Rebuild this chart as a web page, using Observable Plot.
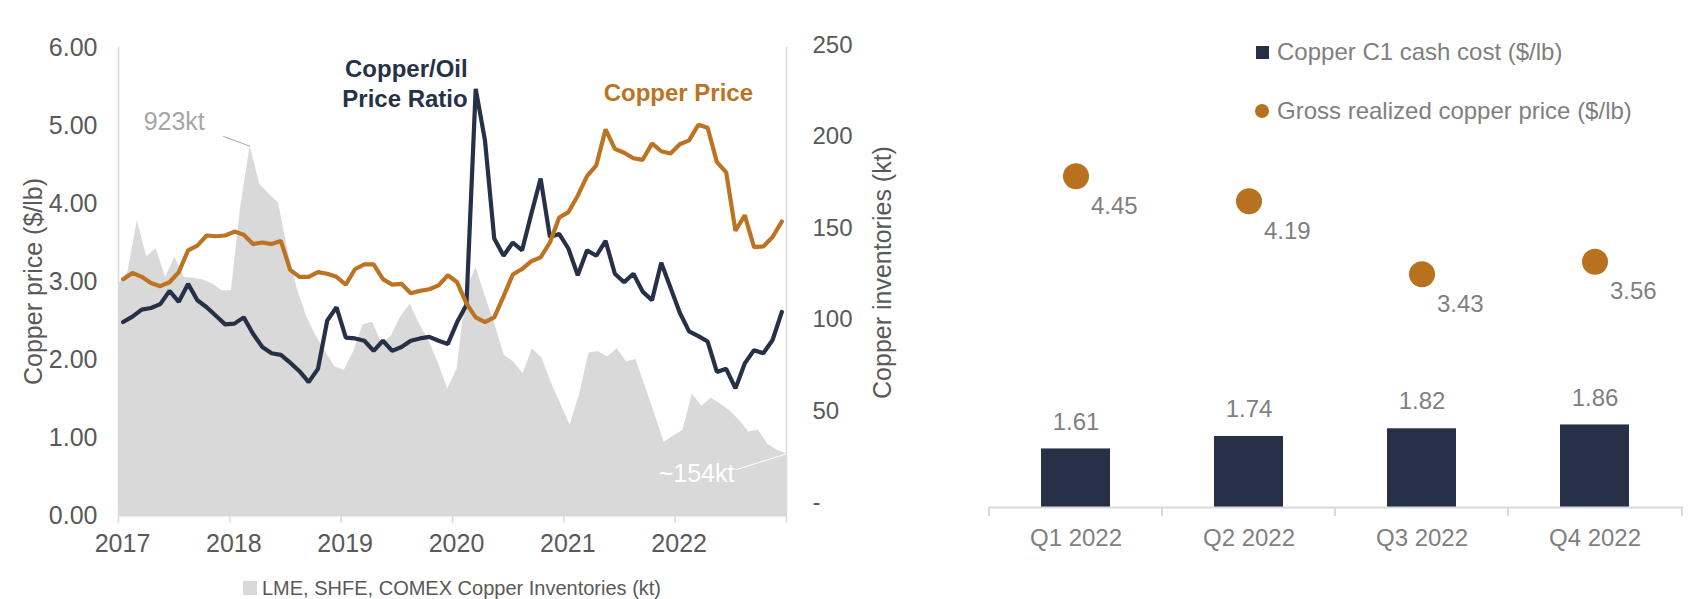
<!DOCTYPE html>
<html><head><meta charset="utf-8">
<script src="https://cdn.jsdelivr.net/npm/d3@7"></script>
<script src="https://cdn.jsdelivr.net/npm/@observablehq/plot@0.6"></script>
<style>
body{margin:0;background:#fff;}
#page{position:relative;width:1693px;height:599px;overflow:hidden;font-family:"Liberation Sans",Arial,sans-serif;}
#left{position:absolute;left:0;top:0;}
#right{position:absolute;left:940px;top:0;}
.leg{position:absolute;display:flex;align-items:center;white-space:nowrap;}
.sw{display:inline-block;margin-right:6px;}
</style></head><body>
<div id="page">
  <div id="left"></div>
  <div id="right"></div>
  <div class="leg" style="left:243px;top:573px;height:30px;font-size:20px;color:#595959;">
    <span class="sw" style="width:14px;height:14px;background:#d9d9d9;margin-right:5px"></span>LME, SHFE, COMEX Copper Inventories (kt)
  </div>
  <div class="leg" style="left:1256px;top:37px;height:30px;font-size:24px;color:#7f7f7f;">
    <span class="sw" style="width:13px;height:13px;background:#263148;margin-right:8px"></span>Copper C1 cash cost ($/lb)
  </div>
  <div class="leg" style="left:1255px;top:96px;height:30px;font-size:24px;color:#7f7f7f;">
    <span class="sw" style="width:14px;height:14px;border-radius:50%;background:#B8711F;margin-right:8px"></span>Gross realized copper price ($/lb)
  </div>
</div>
<script>
// ---------- Left chart data (monthly, Jan 2017 – Dec 2022) ----------
const startYear = 2017;
const endYear = 2023;
const copperPrice = [
  3.03, 3.11, 3.06, 2.98, 2.94, 2.99, 3.12, 3.40, 3.46, 3.59, 3.58, 3.59,
  3.64, 3.60, 3.48, 3.50, 3.48, 3.52, 3.15, 3.06, 3.06, 3.12, 3.10, 3.06,
  2.96, 3.16, 3.22, 3.22, 3.03, 2.96, 2.97, 2.85, 2.88, 2.90, 2.95, 3.08,
  2.99, 2.72, 2.54, 2.48, 2.54, 2.81, 3.09, 3.16, 3.26, 3.31, 3.50, 3.82,
  3.89, 4.10, 4.35, 4.49, 4.95, 4.70, 4.65, 4.58, 4.56, 4.77, 4.67, 4.64,
  4.76, 4.81, 5.01, 4.97, 4.53, 4.40, 3.65, 3.85, 3.44, 3.45, 3.57, 3.77
];
const copperOilRatio = [
  2.48, 2.55, 2.64, 2.66, 2.71, 2.88, 2.74, 2.97, 2.76, 2.67, 2.56, 2.45,
  2.46, 2.54, 2.33, 2.16, 2.08, 2.06, 1.96, 1.85, 1.71, 1.88, 2.50, 2.67,
  2.28, 2.27, 2.24, 2.11, 2.24, 2.11, 2.16, 2.24, 2.27, 2.29, 2.24, 2.20,
  2.48, 2.70, 5.47, 4.81, 3.55, 3.33, 3.50, 3.40, 3.87, 4.32, 3.57, 3.61,
  3.42, 3.08, 3.40, 3.33, 3.52, 3.10, 2.99, 3.10, 2.87, 2.76, 3.24, 2.92,
  2.60, 2.36, 2.30, 2.23, 1.84, 1.88, 1.63, 1.95, 2.12, 2.08, 2.25, 2.61
];
const inventoriesKt = [
  579, 608, 737, 647, 667, 595, 645, 595, 593, 589, 579, 562,
  562, 774, 923, 829, 803, 782, 663, 566, 497, 449, 410, 371,
  363, 410, 476, 484, 429, 449, 497, 528, 478, 437, 380, 316,
  367, 566, 620, 546, 478, 400, 384, 355, 417, 394, 332, 279,
  226, 302, 406, 410, 396, 417, 384, 390, 322, 254, 183, 199,
  213, 304, 273, 293, 279, 261, 238, 209, 213, 179, 164, 154
];
const yearTicks = [2017, 2018, 2019, 2020, 2021, 2022];
const leftTicks = [0, 1, 2, 3, 4, 5, 6];
const rightTicks = [0, 50, 100, 150, 200, 250];

// ---------- Right chart data ----------
const quarters = ["Q1 2022", "Q2 2022", "Q3 2022", "Q4 2022"];
const c1CashCost = [1.61, 1.74, 1.82, 1.86];
const realizedPrice = [4.45, 4.19, 3.43, 3.56];

// ---------- styling ----------
const NAVY = "#263148", ORANGE = "#BC7322", DOT = "#B8711F", GRID = "#d9d9d9", AXIS_TXT = "#595959";
const KT_PER_UNIT = 195;                 // secondary (hidden) inventory scale vs price axis
const rightAxisPos = r => 0.167 + r * 0.02344; // secondary axis tick placement on the primary scale

const nMonths = copperPrice.length;
const span = endYear - startYear;
const priceRows = copperPrice.map((v, i) => ({t: startYear + (i + 0.5) / 12, v}));
const ratioRows = copperOilRatio.map((v, i) => ({t: startYear + (i + 0.5) / 12, v}));
const invRows = inventoriesKt.map((kt, i) => ({t: startYear + i * span / (nMonths - 1), kt, v: kt / KT_PER_UNIT}));
const invPeak = d3.greatest(invRows, d => d.v);
const invLast = invRows[invRows.length - 1];

const left = Plot.plot({
  width: 940, height: 560,
  marginTop: 47, marginBottom: 45, marginLeft: 118, marginRight: 154,
  style: {fontFamily: "'Liberation Sans', Arial, sans-serif", fontSize: "25px", color: AXIS_TXT, background: "transparent", overflow: "visible"},
  x: {domain: [startYear, endYear]},
  y: {domain: [0, 6]},
  marks: [
    Plot.areaY(invRows, {x: "t", y: "v", fill: GRID}),
    Plot.ruleX([startYear], {y1: 0, y2: 6, stroke: GRID, strokeWidth: 1.5}),
    Plot.ruleX([endYear], {y1: -0.1, y2: 6, stroke: GRID, strokeWidth: 1.5}),
    Plot.ruleX(yearTicks, {x: d => d, y1: 0, y2: -0.1, stroke: GRID, strokeWidth: 1.5}),
    Plot.ruleY([0], {stroke: GRID, strokeWidth: 2}),
    Plot.lineY(ratioRows, {x: "t", y: "v", stroke: NAVY, strokeWidth: 4.2, strokeLinejoin: "miter"}),
    Plot.lineY(priceRows, {x: "t", y: "v", stroke: ORANGE, strokeWidth: 4.2, strokeLinejoin: "miter"}),
    Plot.axisY(leftTicks, {tickFormat: d3.format(".2f"), tickSize: 0, tickPadding: 21, fill: AXIS_TXT, fontSize: 25,
      label: "Copper price ($/lb)", labelAnchor: "center", labelArrow: "none", labelOffset: 94}),
    Plot.axisX(yearTicks, {tickFormat: d => String(d), tickSize: 0, tickPadding: 19, dx: 4, fill: AXIS_TXT, fontSize: 25, label: null}),
    Plot.text(rightTicks, {frameAnchor: "right", y: r => rightAxisPos(r), text: r => r === 0 ? "-" : String(r),
      dx: 26, textAnchor: "start", fill: AXIS_TXT, fontSize: 24}),
    Plot.text(["Copper inventories (kt)"], {frameAnchor: "right", textAnchor: "middle", dx: 96, dy: -9, rotate: -90, fill: AXIS_TXT, fontSize: 25}),
    // annotations
    Plot.text(ratioRows, Plot.selectMaxY({x: "t", y: "v", text: () => "Copper/Oil\nPrice Ratio",
      textAnchor: "end", dx: -8, dy: -6, fill: NAVY, fontWeight: "bold", fontSize: 24, lineHeight: 1.25})),
    Plot.text(priceRows, Plot.selectMaxY({x: "t", y: "v", text: () => "Copper Price",
      dx: -20, dy: -31, fill: ORANGE, fontWeight: "bold", fontSize: 24})),
    Plot.text([invPeak], {x: "t", y: "v", text: d => `${d.kt}kt`, dx: -76, dy: -24, fill: "#a6a6a6", fontSize: 25}),
    Plot.link([invPeak], {x1: d => d.t - 0.243, y1: d => d.v + 0.128, x2: "t", y2: "v", stroke: "#a6a6a6", strokeWidth: 1}),
    Plot.text([invLast], {x: "t", y: "v", text: d => `~${d.kt}kt`, dx: -90, dy: 20, fill: "#ffffff", fontSize: 25}),
    Plot.link([invLast], {x1: d => d.t - 0.458, y1: d => d.v - 0.205, x2: "t", y2: "v", stroke: "#ffffff", strokeWidth: 1})
  ]
});
document.getElementById("left").appendChild(left);

const qRows = quarters.map((q, i) => ({q, cost: c1CashCost[i], price: realizedPrice[i]}));
const right = Plot.plot({
  width: 753, height: 599,
  marginTop: 27, marginBottom: 92, marginLeft: 48, marginRight: 10,
  style: {fontFamily: "'Liberation Sans', Arial, sans-serif", fontSize: "24px", color: "#7f7f7f", background: "transparent", overflow: "visible"},
  x: {domain: quarters, paddingInner: 0.6, paddingOuter: 0.3},
  y: {domain: [1, 6], axis: null},
  marks: [
    Plot.barY(qRows, {x: "q", y1: 1, y2: "cost", fill: NAVY}),
    Plot.ruleY([1], {stroke: GRID, strokeWidth: 2}),
    Plot.ruleX(quarters, {x: d => d, dx: -86.9, y1: 1, y2: 0.906, stroke: GRID, strokeWidth: 2}),
    Plot.ruleX(quarters.slice(-1), {x: d => d, dx: 86.9, y1: 1, y2: 0.906, stroke: GRID, strokeWidth: 2}),
    Plot.text(qRows, {x: "q", y: "cost", text: d => d.cost.toFixed(2), dy: -27, fill: "#7f7f7f", fontSize: 24}),
    Plot.dot(qRows, {x: "q", y: "price", r: 13, fill: DOT}),
    Plot.text(qRows, {x: "q", y: "price", text: d => d.price.toFixed(2), dx: 15, dy: 30, textAnchor: "start", fill: "#7f7f7f", fontSize: 24}),
    Plot.axisX({tickSize: 0, tickPadding: 21, fill: "#7f7f7f", label: null})
  ]
});
document.getElementById("right").appendChild(right);
</script>
</body></html>
